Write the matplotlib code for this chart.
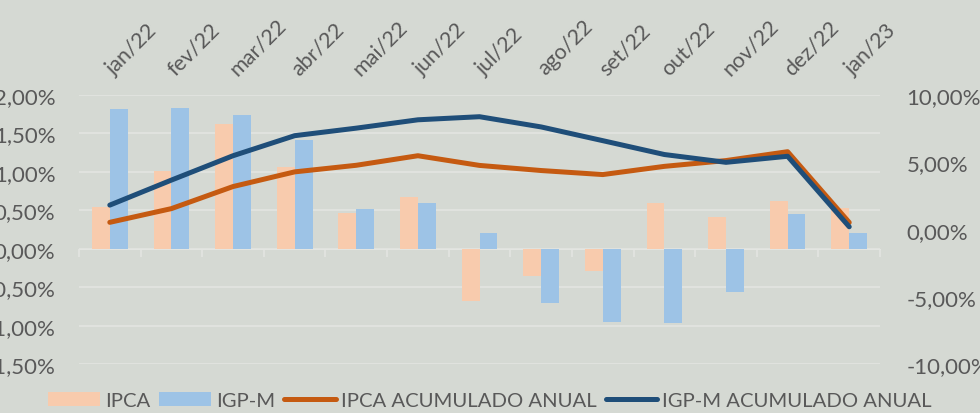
import numpy as np
import matplotlib.pyplot as plt
import matplotlib.transforms as mtransforms
from matplotlib.ticker import FuncFormatter

plt.rcParams['font.family'] = ['Lato', 'DejaVu Sans']

# Datos
meses = ["jan/22", "fev/22", "mar/22", "abr/22", "mai/22", "jun/22", "jul/22",
         "ago/22", "set/22", "out/22", "nov/22", "dez/22", "jan/23"]
ipca = [0.54, 1.01, 1.62, 1.06, 0.47, 0.67, -0.68, -0.36, -0.29, 0.59, 0.41, 0.62, 0.53]
igpm = [1.82, 1.83, 1.74, 1.41, 0.52, 0.59, 0.21, -0.70, -0.95, -0.97, -0.56, 0.45, 0.21]
ipca_acum = [0.54, 1.56, 3.20, 4.29, 4.78, 5.49, 4.77, 4.39, 4.09, 4.70, 5.13, 5.79, 0.53]
igpm_acum = [1.82, 3.68, 5.49, 6.98, 7.54, 8.16, 8.39, 7.63, 6.61, 5.58, 5.00, 5.45, 0.21]

fondo = "#d5d9d3"
rejilla = "#e3e5e1"
texto = "#595959"

fig = plt.figure(figsize=(9.8, 4.14), dpi=100, facecolor=fondo)
ax = fig.add_axes([0.0806, 0.118, 0.8174, 0.650])
ax.set_facecolor(fondo)

x = np.arange(len(meses))
ancho = 0.29
b1 = ax.bar(x - ancho / 2, ipca, ancho, color="#f8cbad", label="IPCA", zorder=2)
b2 = ax.bar(x + ancho / 2, igpm, ancho, color="#9dc3e6", label="IGP-M", zorder=2)

ax.set_xlim(-0.5, len(meses) - 0.5)
ax.set_ylim(-1.5, 2.0)
ax.set_yticks(np.arange(-1.5, 2.01, 0.5))
ax.yaxis.set_major_formatter(FuncFormatter(lambda v, p: f"{v:.2f}%".replace(".", ",")))
ax.grid(axis="y", color=rejilla, linewidth=1.2, zorder=0)
ax.set_axisbelow(True)
for s in ax.spines.values():
    s.set_visible(False)
ax.tick_params(axis="y", length=0, pad=17, labelsize=16, labelcolor=texto)

# etiquetas de meses arriba
ax.xaxis.tick_top()
ax.set_xticks(x)
ax.set_xticklabels(meses)
ax.tick_params(axis="x", length=0, pad=14, labelsize=15.5, labelcolor=texto)
desplaza = mtransforms.ScaledTranslation(4 / 100, 0, fig.dpi_scale_trans)
for t in ax.get_xticklabels():
    t.set_rotation(45)
    t.set_rotation_mode("anchor")
    t.set_ha("left")
    t.set_va("baseline")
    t.set_transform(t.get_transform() + desplaza)

# eje en el cero con marcas
sec = ax.secondary_xaxis(1.5 / 3.5)
sec.set_xticks(np.arange(-0.5, len(meses), 1.0))
sec.set_xticklabels([])
sec.spines["bottom"].set_color(rejilla)
sec.tick_params(axis="x", direction="out", length=6, color=rejilla, width=1.2)

# eje derecho
ax2 = ax.twinx()
ax2.set_ylim(-10, 10)
ax2.set_yticks([-10, -5, 0, 5, 10])
ax2.yaxis.set_major_formatter(FuncFormatter(lambda v, p: f"{v:.2f}%".replace(".", ",")))
for s in ax2.spines.values():
    s.set_visible(False)
ax2.tick_params(axis="y", length=0, pad=19, labelsize=16, labelcolor=texto)

l1, = ax2.plot(x, ipca_acum, color="#c55a11", linewidth=3.6, solid_capstyle="round",
               solid_joinstyle="round", label="IPCA ACUMULADO ANUAL")
l2, = ax2.plot(x, igpm_acum, color="#1f4e79", linewidth=3.6, solid_capstyle="round",
               solid_joinstyle="round", label="IGP-M ACUMULADO ANUAL")

leg = fig.legend(handles=[b1, b2, l1, l2], loc="lower center", bbox_to_anchor=(0.5, -0.035),
                 ncol=4, frameon=False, fontsize=14.6, labelcolor=texto,
                 handlelength=2.55, handleheight=0.7, handletextpad=0.25, columnspacing=0.45)

plt.savefig("out.png", dpi=100, facecolor=fondo)
